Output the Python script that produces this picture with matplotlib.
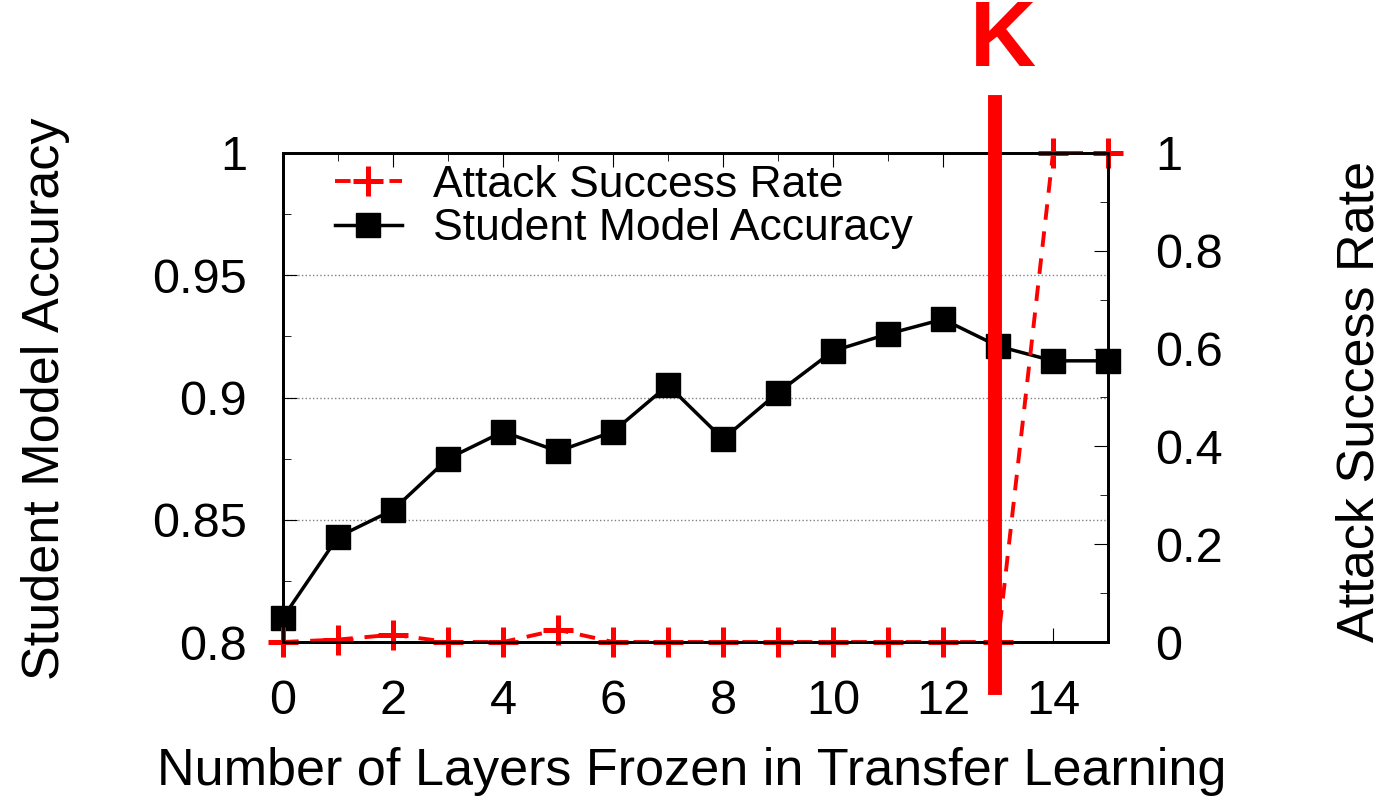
import matplotlib.pyplot as plt
from matplotlib.ticker import MultipleLocator

plt.rcParams['font.family'] = ['Liberation Sans', 'DejaVu Sans']

# Dados
camadas = list(range(16))
acuracia = [0.810, 0.843, 0.854, 0.875, 0.886, 0.878, 0.886, 0.905,
            0.883, 0.902, 0.919, 0.926, 0.932, 0.921, 0.915, 0.915]
ataque = [0.0, 0.005, 0.015, 0.0, 0.0, 0.025, 0.0, 0.0,
          0.0, 0.0, 0.0, 0.0, 0.0, 0.0, 1.0, 1.0]
k_pos = 12.95

W, H = 1386, 802
fig = plt.figure(figsize=(W / 100, H / 100), dpi=100)
ax = fig.add_axes([283 / W, 1 - 642 / H, (1108 - 283) / W, (642 - 153) / H])
ax2 = ax.twinx()

# Acurácia (eixo esquerdo)
ax.plot(camadas, acuracia, color='black', lw=2.5, marker='s', ms=17,
        label='Student Model Accuracy', zorder=3, clip_on=False)
ax.set_xlim(0, 15)
ax.set_ylim(0.8, 1.0)
ax.xaxis.set_major_locator(MultipleLocator(2))
ax.xaxis.set_minor_locator(MultipleLocator(1))
ax.yaxis.set_minor_locator(MultipleLocator(0.025))
ax.set_yticks([0.8, 0.85, 0.9, 0.95, 1.0])
ax.set_yticklabels(['0.8', '0.85', '0.9', '0.95', '1'])
ax.grid(axis='y', which='major', linestyle=':', color='gray', lw=1)
ax.tick_params(axis='both', which='both', direction='in', labelsize=35, top=True)
ax.tick_params(axis='both', which='major', length=10)
ax.tick_params(axis='both', which='minor', length=6)
ax.tick_params(axis='y', pad=26)
ax.tick_params(axis='x', pad=27)

# Taxa de sucesso do ataque (eixo direito)
ax2.plot(camadas, ataque, color='red', lw=2.8, ls=(0, (4, 3)), marker='+', ms=22,
         mew=3.6, label='Attack Success Rate', zorder=2, clip_on=False)
ax2.set_ylim(0, 1)
ax2.yaxis.set_minor_locator(MultipleLocator(0.1))
ax2.set_yticks([0, 0.2, 0.4, 0.6, 0.8, 1.0])
ax2.set_yticklabels(['0', '0.2', '0.4', '0.6', '0.8', '1'])
ax2.tick_params(axis='y', which='both', direction='in', labelsize=35)
ax2.tick_params(axis='y', which='major', length=10, pad=34)
ax2.tick_params(axis='y', which='minor', length=6)

# Rótulos dos eixos
fig.text(692 / W, 1 - 771 / H, 'Number of Layers Frozen in Transfer Learning',
         fontsize=37.5, ha='center', va='center')
fig.text(46 / W, 1 - 399 / H, 'Student Model Accuracy', fontsize=37.5,
         rotation=90, ha='center', va='center')
fig.text(1360 / W, 1 - 401 / H, 'Attack Success Rate', fontsize=37.5,
         rotation=90, ha='center', va='center')

# Linha vertical K
ax2.plot([k_pos, k_pos], [-0.094, 1.104], color='red', lw=10, clip_on=False, zorder=5)
ax2.text(13.09, 1.228, 'K', color='red', fontsize=66, fontweight='bold',
         ha='center', va='center', clip_on=False)

# Legenda
l1, r1 = ax2.get_legend_handles_labels()
l2, r2 = ax.get_legend_handles_labels()
ax2.legend(l1 + l2, r1 + r2, loc='upper left', frameon=False, fontsize=32,
           handlelength=1.5, handletextpad=0.7, borderpad=0, borderaxespad=0,
           labelspacing=0.05, bbox_to_anchor=(335 / W, 1 - 165 / H),
           bbox_transform=fig.transFigure)

for a in (ax, ax2):
    for s in a.spines.values():
        s.set_linewidth(2)

fig.savefig('out.png', dpi=100)
